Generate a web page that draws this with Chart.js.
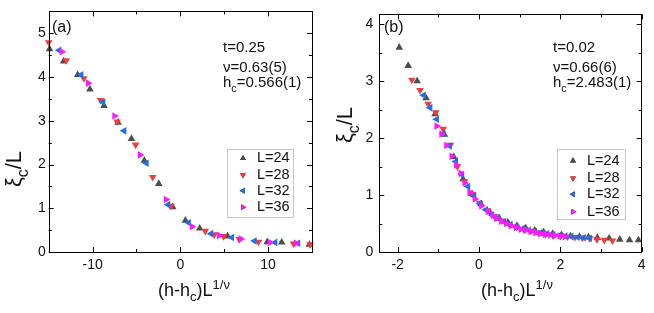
<!DOCTYPE html>
<html><head><meta charset="utf-8">
<script src="https://cdn.jsdelivr.net/npm/chart.js@4"></script>
<style>
html,body{margin:0;padding:0;background:#fff;}
#wrap{position:relative;width:654px;height:313px;overflow:hidden;}
.panel{position:absolute;top:0;width:327px;height:313px;}
</style></head><body>
<div id="wrap">
<div class="panel" style="left:0"><canvas id="ca" width="327" height="313"></canvas></div>
<div class="panel" style="left:327px"><canvas id="cb" width="327" height="313"></canvas></div>
</div>
<script>
// ---------- data ----------
const seriesLabels = ['L=24', 'L=28', 'L=32', 'L=36'];

// panel (a)
const xTicksA = [-10, 0, 10];
const xMinorA = [-5, 5];
const yTicksA = [0, 1, 2, 3, 4, 5];
const yMinorA = [0.5, 1.5, 2.5, 3.5, 4.5];
const a24x = [-14.9, -13.3, -11.7, -10.3, -8.7, -7.1, -5.57, -4.1, -2.46, -0.87, 0.57, 2.2, 5.38, 9.9, 11.55, 14.7];
const a24y = [4.64, 4.36, 4.05, 3.72, 3.34, 2.96, 2.59, 2.09, 1.56, 1.03, 0.72, 0.54, 0.36, 0.23, 0.22, 0.17];
const a28x = [-15.0, -13.0, -11.0, -9.1, -7.2, -5.1, -3.15, -1.06, 2.84, 3.86, 4.92, 6.7, 8.9, 12.9, 14.8];
const a28y = [4.79, 4.38, 3.97, 3.47, 2.98, 2.45, 1.71, 1.05, 0.48, 0.40, 0.36, 0.29, 0.23, 0.19, 0.17];
const a32x = [-13.8, -11.3, -8.8, -6.4, -3.86, -1.4, 0.95, 3.5, 5.87, 8.45, 10.8, 13.4];
const a32y = [4.61, 4.05, 3.43, 2.77, 2.03, 1.08, 0.67, 0.42, 0.33, 0.25, 0.22, 0.20];
const a36x = [-13.5, -10.5, -7.5, -4.6, -1.63, 1.33, 4.43, 6.9, 10.2, 13.2];
const a36y = [4.58, 3.86, 3.11, 2.22, 1.20, 0.58, 0.38, 0.30, 0.22, 0.20];

// panel (b)
const xTicksB = [-2, 0, 2, 4];
const xMinorB = [-1, 1, 3];
const yTicksB = [0, 1, 2, 3, 4];
const yMinorB = [0.5, 1.5, 2.5, 3.5];
const b24x = [-1.96, -1.74, -1.52, -1.30, -1.08, -0.85, -0.62, -0.39, -0.17, 0.05, 0.27, 0.49, 0.71, 0.93, 1.15, 1.37, 1.59, 1.81, 2.03, 2.25, 2.47, 2.69, 2.91, 3.20, 3.46, 3.70, 3.92];
const b24y = [3.59, 3.27, 3.00, 2.70, 2.42, 2.06, 1.67, 1.28, 1.02, 0.84, 0.70, 0.60, 0.52, 0.46, 0.42, 0.38, 0.35, 0.32, 0.30, 0.28, 0.27, 0.26, 0.25, 0.24, 0.22, 0.21, 0.21];
const b28x = [-1.65, -1.45, -1.25, -1.06, -0.88, -0.70, -0.53, -0.35, -0.16, 0.02, 0.20, 0.38, 0.56, 0.74, 0.92, 1.10, 1.28, 1.46, 1.64, 1.82, 2.00, 2.18, 2.36, 2.54, 2.72, 2.90, 3.08, 3.28];
const b28y = [3.02, 2.84, 2.60, 2.45, 2.16, 1.88, 1.50, 1.24, 1.02, 0.86, 0.73, 0.63, 0.55, 0.49, 0.44, 0.40, 0.37, 0.34, 0.31, 0.29, 0.28, 0.27, 0.26, 0.25, 0.24, 0.22, 0.21, 0.20];
const b32x = [-1.36, -1.20, -1.04, -0.88, -0.72, -0.57, -0.42, -0.27, -0.12, 0.02, 0.17, 0.32, 0.47, 0.62, 0.77, 0.92, 1.07, 1.22, 1.37, 1.52, 1.67, 1.82, 1.97, 2.12, 2.27, 2.42, 2.57, 2.72];
const b32y = [2.75, 2.53, 2.33, 2.08, 1.86, 1.59, 1.36, 1.15, 0.98, 0.85, 0.74, 0.65, 0.59, 0.53, 0.48, 0.44, 0.41, 0.38, 0.36, 0.34, 0.32, 0.30, 0.29, 0.28, 0.27, 0.26, 0.25, 0.24];
const b36x = [-1.04, -0.92, -0.80, -0.67, -0.56, -0.45, -0.35, -0.23, -0.10, 0.06, 0.22, 0.34, 0.43, 0.55, 0.67, 0.79, 0.91, 1.03, 1.15, 1.27, 1.39, 1.51, 1.63, 1.75, 1.87, 1.99, 2.11];
const b36y = [2.21, 2.07, 1.87, 1.68, 1.53, 1.38, 1.21, 1.05, 0.93, 0.81, 0.71, 0.64, 0.59, 0.54, 0.50, 0.46, 0.43, 0.40, 0.38, 0.36, 0.34, 0.32, 0.31, 0.30, 0.29, 0.28, 0.27];

// texts (segments: [text, kind])
const xTitleSegs = [['(h-h', ''], ['c', 'sub'], [')L', ''], ['1/ν', 'sup']];
const yTitleSegs = [['ξ', ''], ['c', 'sub'], ['/L', '']];
const annA = [[['t=0.25', '']], [['ν=0.63(5)', '']], [['h', ''], ['c', 'sub'], ['=0.566(1)', '']]];
const annB = [[['t=0.02', '']], [['ν=0.66(6)', '']], [['h', ''], ['c', 'sub'], ['=2.483(1)', '']]];

// ---------- styling ----------
const FONT = '"Liberation Sans", Arial, Helvetica, sans-serif';
const colors = ['#4d4d4d', '#f03c3c', '#1f6fe5', '#ff1aff'];
const rotations = [0, 180, -90, 90];

function mk(xs, ys) { return xs.map((x, i) => ({ x: x, y: ys[i] })); }

function richWidth(ctx, segs, size) {
  let w = 0;
  for (const [t, k] of segs) { ctx.font = (k ? size * 0.72 : size) + 'px ' + FONT; w += ctx.measureText(t).width; }
  return w;
}
function drawRich(ctx, segs, x, y, size) {
  let cx = x;
  for (const [t, k] of segs) {
    const s = k ? size * 0.72 : size;
    ctx.font = s + 'px ' + FONT;
    const dy = k === 'sub' ? size * 0.3 : (k === 'sup' ? -size * 0.4 : 0);
    ctx.fillText(t, cx, y + dy);
    cx += ctx.measureText(t).width;
  }
}

const decor = {
  id: 'decor',
  afterDraw(chart, args, o) {
    const ctx = chart.ctx, a = chart.chartArea;
    const xs = chart.scales.x, ys = chart.scales.y;
    ctx.save();
    ctx.strokeStyle = '#000'; ctx.lineWidth = 1;
    // frame
    ctx.strokeRect(Math.round(a.left) + 0.5, Math.round(a.top) + 0.5, Math.round(a.right - a.left), Math.round(a.bottom - a.top));
    // inward ticks
    const tick = (vals, len) => {
      for (const v of vals.x) {
        const p = Math.round(xs.getPixelForValue(v)) + 0.5;
        ctx.beginPath(); ctx.moveTo(p, a.bottom); ctx.lineTo(p, a.bottom - len);
        ctx.moveTo(p, a.top); ctx.lineTo(p, a.top + len); ctx.stroke();
      }
      for (const v of vals.y) {
        const p = Math.round(ys.getPixelForValue(v)) + 0.5;
        ctx.beginPath(); ctx.moveTo(a.left, p); ctx.lineTo(a.left + len, p);
        ctx.moveTo(a.right, p); ctx.lineTo(a.right - len, p); ctx.stroke();
      }
    };
    tick({ x: o.xMajor, y: o.yMajor }, 5);
    tick({ x: o.xMinor, y: o.yMinor }, 3);

    ctx.fillStyle = '#111';
    ctx.textAlign = 'left';
    // panel label
    ctx.font = '16px ' + FONT;
    ctx.textBaseline = 'middle';
    ctx.fillText(o.tag, o.tagX, o.tagY);
    ctx.textBaseline = 'alphabetic';
    // annotations
    o.ann.forEach((segs, i) => drawRich(ctx, segs, o.annX, o.annY[i], 15));
    // x title
    const wx = richWidth(ctx, xTitleSegs, 18);
    drawRich(ctx, xTitleSegs, o.xtX - wx / 2, o.xtY, 18);
    // y title
    ctx.save();
    ctx.translate(o.ytX, o.ytY);
    ctx.rotate(-Math.PI / 2);
    const wy = richWidth(ctx, yTitleSegs, 22);
    drawRich(ctx, yTitleSegs, -wy / 2, 7, 22);
    ctx.restore();
    // legend
    const L = o.leg;
    ctx.strokeStyle = '#c8c8c8';
    ctx.strokeRect(L.x0 + 0.5, L.y0 + 0.5, L.x1 - L.x0, L.y1 - L.y0);
    ctx.font = '14.5px ' + FONT;
    ctx.textBaseline = 'middle';
    chart.data.datasets.forEach((ds, i) => {
      Chart.helpers.drawPoint(ctx, {
        pointStyle: 'triangle', radius: 3.4, rotation: ds.rotation, borderWidth: 0
      }, L.mx, L.rows[i]);
      ctx.fillStyle = ds.backgroundColor; ctx.fill();
      ctx.fillStyle = '#111';
      ctx.fillText(ds.label, L.tx, L.rows[i]);
    });
    ctx.restore();
  }
};

function makeChart(id, sets, xr, yr, xt, yt, leftW, padRight, yPad, deco) {
  const datasets = sets.map((d, i) => ({
    label: seriesLabels[i],
    data: d,
    pointStyle: 'triangle',
    rotation: rotations[i],
    pointRadius: 4.4,
    pointBorderWidth: 0,
    borderWidth: 0,
    backgroundColor: colors[i],
    borderColor: colors[i],
    order: 3 - i,
    clip: false
  }));
  return new Chart(document.getElementById(id), {
    type: 'scatter',
    data: { datasets },
    options: {
      responsive: false, animation: false, devicePixelRatio: 1,
      layout: { padding: { top: 10, right: padRight, left: 0, bottom: 0 } },
      plugins: { legend: { display: false }, tooltip: { enabled: false }, decor: deco },
      scales: {
        x: {
          type: 'linear', min: xr[0], max: xr[1],
          afterBuildTicks: s => { s.ticks = xt.map(v => ({ value: v })); },
          afterFit: s => { s.height = 61; },
          grid: { display: false, drawTicks: false },
          border: { display: false },
          ticks: { color: '#111', padding: 5, maxRotation: 0, font: { family: FONT, size: 14 } }
        },
        y: {
          type: 'linear', min: yr[0], max: yr[1],
          afterBuildTicks: s => { s.ticks = yt.map(v => ({ value: v })); },
          afterFit: s => { s.width = leftW; },
          grid: { display: false, drawTicks: false },
          border: { display: false },
          ticks: { color: '#111', padding: yPad, font: { family: FONT, size: 14 } }
        }
      }
    },
    plugins: [decor]
  });
}

makeChart('ca',
  [mk(a24x, a24y), mk(a28x, a28y), mk(a32x, a32y), mk(a36x, a36y)],
  [-15, 15], [0, 5.5], xTicksA, yTicksA, 48.7, 15, 3,
  { xMajor: xTicksA, xMinor: xMinorA, yMajor: yTicksA, yMinor: yMinorA,
    tag: '(a)', tagX: 52, tagY: 28,
    ann: annA, annX: 223, annY: [52, 72, 87],
    xtX: 194, xtY: 296, ytX: 14, ytY: 169,
    leg: { x0: 227, y0: 149, x1: 293, y1: 217, mx: 243, tx: 257, rows: [158.3, 175, 190.7, 207.3] } });

makeChart('cb',
  [mk(b24x, b24y), mk(b28x, b28y), mk(b32x, b32y), mk(b36x, b36y)],
  [-2.45, 4], [0, 4.17], xTicksB, yTicksB, 52.3, 12.3, 6,
  { xMajor: xTicksB, xMinor: xMinorB, yMajor: yTicksB, yMinor: yMinorB,
    tag: '(b)', tagX: 57, tagY: 28,
    ann: annB, annX: 226, annY: [52, 72, 87],
    xtX: 190, xtY: 296, ytX: 18, ytY: 125,
    leg: { x0: 230, y0: 149, x1: 298, y1: 219, mx: 246, tx: 260, rows: [160.7, 178.3, 194.3, 211.7] } });
</script>
</body></html>
